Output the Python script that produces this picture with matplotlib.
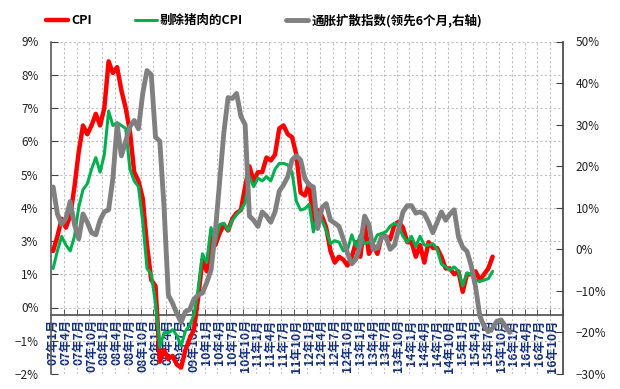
import matplotlib
matplotlib.use("Agg")
import matplotlib.pyplot as plt
import numpy as np

plt.rcParams['font.family'] = ['Noto Sans CJK SC', 'DejaVu Sans']
plt.rcParams['axes.unicode_minus'] = False

# 月度数据, 从07年1月开始
cpi = [2.2, 2.7, 3.3, 3.0, 3.4, 4.4, 5.6, 6.5, 6.2, 6.5, 6.9, 6.5,
       7.1, 8.7, 8.3, 8.5, 7.7, 7.1, 6.3, 4.9, 4.6, 4.0, 2.4, 1.2,
       1.0, -1.6, -1.2, -1.5, -1.4, -1.7, -1.8, -1.2, -0.8, -0.5, 0.6, 1.9,
       1.5, 2.7, 2.4, 2.8, 3.1, 2.9, 3.3, 3.5, 3.6, 4.4, 5.1, 4.6,
       4.9, 4.9, 5.4, 5.3, 5.5, 6.4, 6.5, 6.2, 6.1, 5.5, 4.2, 4.1,
       4.5, 3.2, 3.6, 3.4, 3.0, 2.2, 1.8, 2.0, 1.9, 1.7, 2.0, 2.5,
       2.0, 3.2, 2.1, 2.4, 2.1, 2.7, 2.7, 2.6, 3.1, 3.2, 3.0, 2.5,
       2.5, 2.0, 2.4, 1.8, 2.5, 2.3, 2.3, 2.0, 1.6, 1.6, 1.4, 1.5,
       0.8, 1.4, 1.4, 1.5, 1.2, 1.4, 1.6, 2.0]

cpi_ex_pork = [1.6, 2.2, 2.7, 2.4, 2.2, 2.7, 3.7, 4.3, 4.5, 5.0, 5.4, 4.9,
               5.5, 7.0, 6.5, 6.6, 6.5, 6.4, 5.0, 4.6, 4.4, 3.2, 1.6, 1.4,
               0.4, -1.1, -0.6, -0.6, -0.5, -0.7, -1.05, -0.55, -0.35, 0.0, 0.9, 2.1,
               1.8, 3.0, 2.5, 3.1, 3.15, 2.9, 3.25, 3.45, 3.6, 3.85, 4.75, 4.4,
               4.7, 4.6, 4.75, 4.6, 5.0, 5.2, 5.2, 5.15, 4.9, 3.9, 3.6, 3.65,
               3.8, 2.85, 3.45, 3.25, 2.9, 2.45, 2.55, 2.5, 2.2, 2.25, 2.75, 2.35,
               2.75, 2.45, 2.5, 2.45, 2.75, 2.8, 2.85, 3.05, 3.15, 3.05, 2.7, 2.5,
               2.7, 2.35, 2.7, 2.4, 2.4, 2.45, 2.25, 1.75, 1.65, 1.55, 1.65, 1.5,
               1.0, 1.45, 1.4, 1.2, 1.15, 1.2, 1.25, 1.5]

diffusion = [15, 8.5, 6, 7.5, 11.5, 6, 2.5, 8.5, 6.5, 4, 3.5, 7,
             9, 9.5, 17, 30, 22.5, 26, 29.5, 31, 29, 37.5, 43, 42,
             27, 26, 10, -11, -13, -15.5, -17.5, -15, -14.5, -12, -11, -10.5,
             -8, -5, 4, 16, 28, 36.5, 36.3, 37.5, 32, 30, 8, 7,
             5.5, 9, 8, 6.5, 9, 14, 15.5, 17.5, 21.5, 22.5, 21.5, 17,
             15.5, 15, 5, 10, 11, 7, 6.3, 5.5, 2.5, -1, -3.5, -2.3,
             1, 8, 6, 0, 0.3, 3, 3, 0, 1, 5, 9, 10.5,
             10.5, 8.7, 9, 8.5, 6.5, 4, 6.5, 9, 7, 8.5, 9.5, 3,
             0.5, -0.5, -4, -9, -16, -18.5, -19.8, -19, -17.3, -17, -18.5, -20]

n_months = 120
x_labels = ['%02d年%d月' % (y, m) for y in range(7, 17) for m in (1, 4, 7, 10)]
left_labels = ['−2%', '−1%', '0%', '1%', '3%', '4%', '5%', '6%', '7%', '8%', '9%']
right_labels = ['−30%', '−20%', '−10%', '0%', '10%', '20%', '30%', '40%', '50%']

fig = plt.figure(figsize=(6.2, 3.89), dpi=100)
ax = fig.add_axes([51 / 620, 15 / 389, 512 / 620, 332.5 / 389])
ax2 = ax.twinx()

# 横轴放在0的位置 (要先设, 否则会重置刻度)
ax.spines['bottom'].set_position(('data', 0))
ax.spines['bottom'].set_color('#595959')
ax.spines['bottom'].set_linewidth(1.3)
ax.spines['left'].set_color('#595959')
ax.spines['left'].set_linewidth(1.2)
ax.spines['top'].set_visible(False)
ax.spines['right'].set_visible(False)
for s in ['top', 'bottom', 'left']:
    ax2.spines[s].set_visible(False)
ax2.spines['right'].set_color('#404040')
ax2.spines['right'].set_linewidth(1.2)

grid_kw = dict(color='#BFBFBF', linestyle=(0, (2, 2)), linewidth=0.8)

l1, = ax.plot(range(len(cpi)), cpi, color='#FF0000', lw=3.2,
              solid_joinstyle='round', solid_capstyle='round', label='CPI', zorder=3)
l2, = ax.plot(range(len(cpi_ex_pork)), cpi_ex_pork, color='#00B050', lw=2.2,
              solid_joinstyle='round', solid_capstyle='round', label='剔除猪肉的CPI', zorder=4)
l3, = ax2.plot(range(len(diffusion)), diffusion, color='#808080', lw=3.5,
               solid_joinstyle='round', solid_capstyle='round',
               label='通胀扩散指数(领先6个月,右轴)')

ax.set_xlim(-0.5, n_months - 0.5)
ax.set_ylim(-2.02, 9.38)
yt = np.linspace(-2.02, 9.38, 11)
ax.set_yticks(yt)
ax.set_yticklabels(left_labels)
ax2.set_ylim(-30, 50)
ax2.set_yticks(np.arange(-30, 51, 10))
ax2.set_yticklabels(right_labels)

ax.set_xticks(np.arange(0, n_months, 3))
ax.set_xticklabels(x_labels, fontsize=8.8, fontweight='bold', color='#13307A')
ax.set_xticks(np.arange(2.5, n_months, 3), minor=True)
ax.tick_params(axis='x', which='major', length=0, pad=3, labelrotation=90)
for t in ax.get_xticklabels():
    t.set_va('top')
    t.set_ha('center')
ax.tick_params(axis='x', which='minor', direction='in', length=4, color='#404040')
ax.tick_params(axis='y', direction='in', length=5, color='#404040',
               labelsize=8.5, labelcolor='#222222', pad=9)
ax2.tick_params(axis='y', direction='in', length=5, color='#404040',
                labelsize=8.5, labelcolor='#222222', pad=9)

ax.grid(True, axis='y', **grid_kw)
ax.grid(True, axis='x', which='minor', **grid_kw)
ax.set_axisbelow(True)

fig.legend(handles=[l1, l2, l3], loc='center', bbox_to_anchor=(264 / 620, 1 - 20 / 389),
           ncol=3, frameon=False, handlelength=1.8, handletextpad=0.25,
           columnspacing=3.4, prop={'size': 9, 'weight': 'bold'})

fig.savefig('out.png', dpi=100)
